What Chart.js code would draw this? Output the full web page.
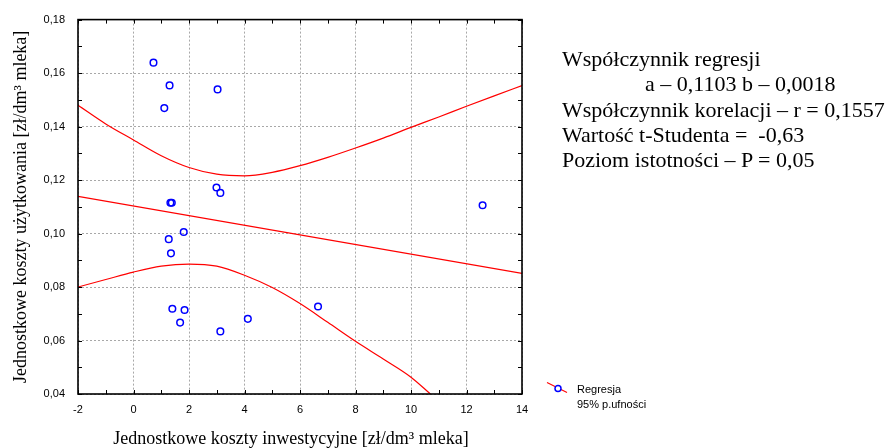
<!DOCTYPE html>
<html>
<head>
<meta charset="utf-8">
<script src="https://cdn.jsdelivr.net/npm/chart.js@4.4.1/dist/chart.umd.min.js"></script>
<style>
  html, body { margin: 0; padding: 0; background: #fff; }
  #wrap { position: relative; width: 889px; height: 448px; }
  #stats {
    position: absolute; left: 562px; top: 46px;
    font-family: "Liberation Serif", "Times New Roman", serif;
    font-size: 22px; line-height: 25.3px; color: #000; white-space: pre;
  }
  #legend {
    position: absolute; left: 546px; top: 381px;
    font-family: "Liberation Sans", Arial, sans-serif; font-size: 11px; line-height: 15px; color: #000;
  }
  #legend svg { position: absolute; left: 0; top: 0; }
  #legend .lbl { position: absolute; left: 31px; white-space: nowrap; }
</style>
</head>
<body>
<div id="wrap">
  <canvas id="chart" width="889" height="448"></canvas>
  <div id="stats"><div>Współczynnik regresji</div><div style="margin-left:83px">a – 0,1103 b – 0,0018</div><div>Współczynnik korelacji – r = 0,1557</div><div>Wartość t-Studenta =  -0,63</div><div>Poziom istotności – P = 0,05</div></div>
  <div id="legend">
    <svg width="24" height="16"><line x1="1" y1="1.5" x2="21" y2="11.5" stroke="#ff0000" stroke-width="1.2"/><circle cx="12" cy="7.5" r="3" fill="#fff" stroke="#0000ff" stroke-width="1.5"/></svg>
    <div class="lbl" style="top:1px">Regresja</div>
    <div class="lbl" style="top:16px">95% p.ufności</div>
  </div>
</div>
<script>
// observed points
const costInvest = [0.72, 1.30, 1.11, 3.03, 2.99, 3.13, 1.33, 1.38, 12.58, 1.81, 1.27, 1.35, 1.40, 1.84, 1.68, 3.13, 4.12, 6.65];
const costUse = [0.1639, 0.1554, 0.1469, 0.1539, 0.1172, 0.1152, 0.1115, 0.1115, 0.1106, 0.1006, 0.0979, 0.0926, 0.0719, 0.0714, 0.0667, 0.0634, 0.0681, 0.0727];

// regression line
const regX = [-2, 14];
const regY = [0.1139, 0.0851];

// 95% confidence band
const upperX = [-2, -1, 0, 1, 2, 3, 4, 5, 6, 7, 8, 9, 10, 11, 12, 13, 14];
const upperY = [0.148, 0.141, 0.135, 0.1291, 0.1247, 0.1222, 0.1216, 0.1229, 0.1254, 0.1285, 0.132, 0.1357, 0.1397, 0.1436, 0.1476, 0.1515, 0.1553];
const lowerX = [-2, -1, 0, 1, 2, 3, 4, 5, 6, 7, 8, 9, 10, 10.7];
const lowerY = [0.080, 0.0828, 0.0856, 0.0878, 0.0886, 0.0878, 0.0844, 0.0798, 0.0738, 0.0668, 0.0597, 0.0531, 0.0463, 0.040];

// trailing spaces nudge the centred title a bit to the left, like the original
const xTitle = "Jednostkowe koszty inwestycyjne [zł/dm³ mleka]\u00a0\u00a0\u00a0\u00a0";
const yTitle = "Jednostkowe koszty użytkowania [zł/dm³ mleka]";

const toPts = (xs, ys) => xs.map((x, i) => ({ x: x, y: ys[i] }));

// frame + small inward ticks on all four sides
const frameTicks = {
  id: "frameTicks",
  afterDraw(chart) {
    const { ctx, chartArea: a, scales: { x, y } } = chart;
    ctx.save();
    ctx.strokeStyle = "#000";
    ctx.lineWidth = 1;
    ctx.beginPath();
    for (let v = -2; v <= 14; v += 1) {
      const px = Math.round(x.getPixelForValue(v)) + 0.5;
      ctx.moveTo(px, a.bottom); ctx.lineTo(px, a.bottom - 4);
      ctx.moveTo(px, a.top); ctx.lineTo(px, a.top + 4);
    }
    for (let k = 4; k <= 18; k += 1) {
      const py = Math.round(y.getPixelForValue(k / 100)) + 0.5;
      ctx.moveTo(a.left, py); ctx.lineTo(a.left + 4, py);
      ctx.moveTo(a.right, py); ctx.lineTo(a.right - 4, py);
    }
    ctx.stroke();
    ctx.lineWidth = 1.6;
    ctx.strokeRect(a.left, a.top, a.right - a.left, a.bottom - a.top);
    ctx.restore();
  }
};

const tickFont = { family: "'Liberation Sans', Arial, sans-serif", size: 11 };
const titleFont = { family: "'Liberation Serif', 'Times New Roman', serif", size: 18, lineHeight: 1 };
const gridOpts = { color: "#a8a8a8", lineWidth: 1, drawTicks: false };

new Chart(document.getElementById("chart"), {
  type: "scatter",
  data: {
    datasets: [
      {
        label: "Regresja",
        data: toPts(regX, regY),
        showLine: true,
        borderColor: "#ff0000",
        borderWidth: 1.2,
        pointRadius: 0,
      },
      {
        label: "95% p.ufności",
        data: toPts(upperX, upperY),
        showLine: true,
        borderColor: "#ff0000",
        borderWidth: 1.2,
        pointRadius: 0,
        cubicInterpolationMode: "monotone",
      },
      {
        label: "95% p.ufności dolna",
        data: toPts(lowerX, lowerY),
        showLine: true,
        borderColor: "#ff0000",
        borderWidth: 1.2,
        pointRadius: 0,
        cubicInterpolationMode: "monotone",
      },
      {
        label: "Dane",
        data: toPts(costInvest, costUse),
        showLine: false,
        pointRadius: 3.3,
        pointBorderWidth: 1.5,
        pointBorderColor: "#0000ff",
        pointBackgroundColor: "rgba(255,255,255,0)",
      },
    ],
  },
  options: {
    responsive: false,
    animation: false,
    layout: { padding: { left: 0, top: 19, right: 367, bottom: 0 } },
    plugins: { legend: { display: false }, tooltip: { enabled: false } },
    scales: {
      x: {
        type: "linear",
        min: -2,
        max: 14,
        afterFit: (scale) => { scale.height = 54; },
        ticks: {
          stepSize: 2,
          color: "#000",
          font: tickFont,
          padding: 9,
          maxRotation: 0,
          callback: (v) => String(v),
        },
        grid: gridOpts,
        border: { display: false, dash: [2, 2] },
        title: { display: true, text: xTitle, color: "#000", font: titleFont, padding: { top: 0, bottom: 0 } },
      },
      y: {
        type: "linear",
        min: 0.04,
        max: 0.18,
        afterFit: (scale) => { scale.width = 78; },
        ticks: {
          stepSize: 0.02,
          color: "#000",
          font: tickFont,
          padding: 13,
          callback: (v) => v.toFixed(2).replace(".", ","),
        },
        grid: gridOpts,
        border: { display: false, dash: [2, 2] },
        title: { display: true, text: yTitle, color: "#000", font: titleFont, padding: { top: 12, bottom: 0 } },
      },
    },
  },
  plugins: [frameTicks],
});
</script>
</body>
</html>
